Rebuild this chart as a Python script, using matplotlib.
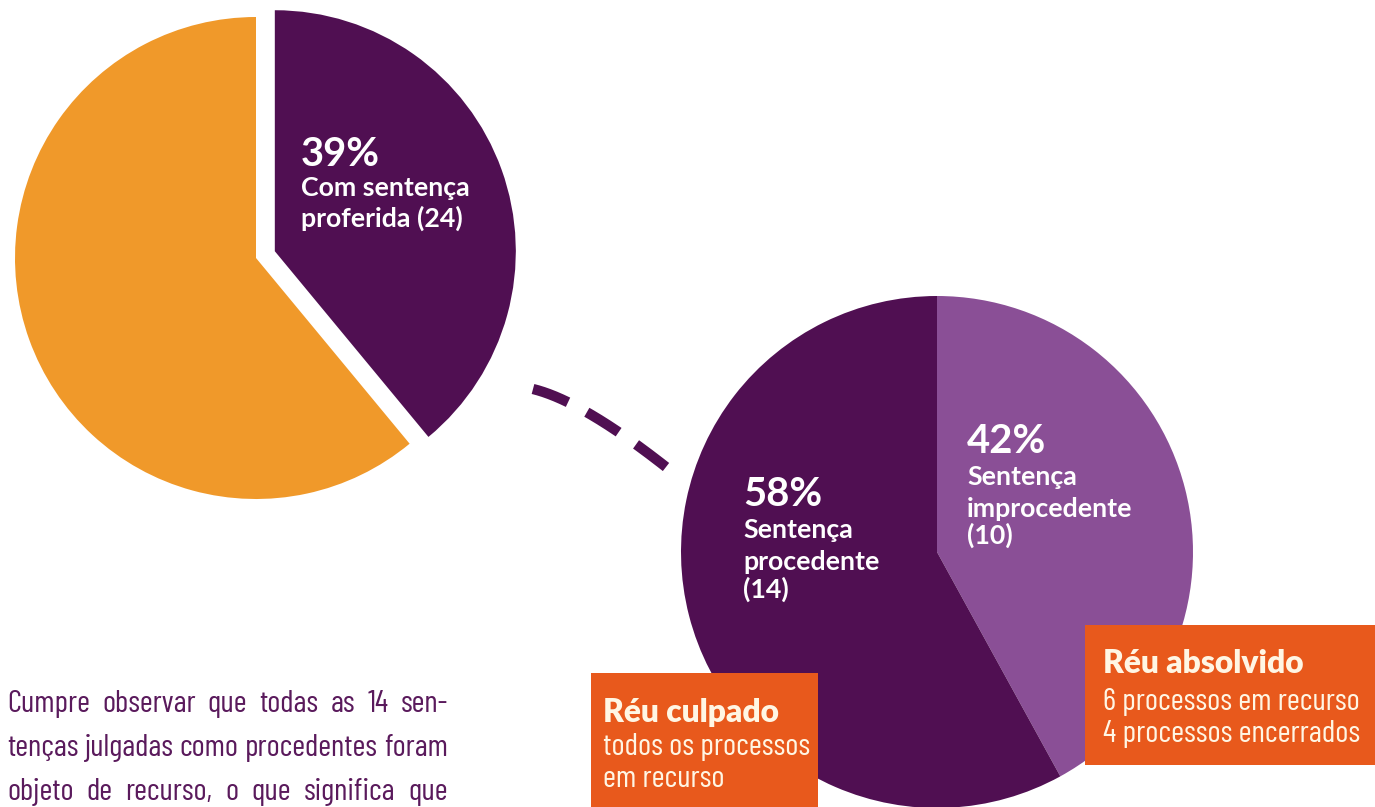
import matplotlib
matplotlib.use("Agg")
import matplotlib.pyplot as plt
from matplotlib import font_manager
from matplotlib.font_manager import FontProperties
from matplotlib.patches import Rectangle
import numpy as np

# ---- data ----
left_values = [39, 61]
left_pct_label = "39%"
left_label_lines = ["Com sentença", "proferida (24)"]

right_values = [42, 58]
right_pct_labels = ["42%", "58%"]
right_label_lines = [["Sentença", "improcedente", "(10)"],
                     ["Sentença", "procedente", "(14)"]]

box_titles = ["Réu culpado", "Réu absolvido"]
box_lines = [["todos os processos", "em recurso"],
             ["6 processos em recurso", "4 processos encerrados"]]

body_lines = ["Cumpre observar que todas as 14 sen-",
              "tenças julgadas como procedentes foram",
              "objeto de recurso, o que significa que"]

# ---- colours ----
ORANGE = "#F0992A"
DARK = "#500F52"
LIGHT = "#8A4F96"
BOX = "#E8591C"
CREAM = "#FFF6E4"
BODY = "#5A1A5C"

FL = font_manager.fontManager.ttflist


def pick(cands, min_weight=0):
    for c in cands:
        ws = [f.weight for f in FL if f.name == c]
        ws = [w if isinstance(w, (int, float)) else 400 for w in ws]
        if ws and max(ws) >= min_weight:
            return c
    return "DejaVu Sans"


NARROW = pick(["Barlow Condensed", "Barlow Semi Condensed", "Asap Condensed", "Archivo Narrow"])
LABEL = pick(["Comfortaa", "Quicksand", "Nunito", "M PLUS Rounded 1c", "Lexend", "Lato"], 700)
TITLE = pick(["Fredoka", "Baloo 2", "M PLUS Rounded 1c", "Nunito", "Quicksand", "Comfortaa", "Lato"], 700)

W, H = 1375, 807
fig = plt.figure(figsize=(W / 100, H / 100), dpi=100)
ax = fig.add_axes([0, 0, 1, 1])
ax.set_xlim(0, W)
ax.set_ylim(0, H)
ax.set_aspect("equal")
ax.axis("off")
renderer = fig.canvas.get_renderer()


def Y(y):
    return H - y


def width_px(s, family, weight, size):
    t = fig.text(0, 0, s, family=family, fontweight=weight, fontsize=size)
    w = t.get_window_extent(renderer=renderer).width
    t.remove()
    return w


def fit(s, family, weight, target):
    w = width_px(s, family, weight, 20)
    return 20 * target / w


# left pie (purple slice pulled out)
ax.pie(left_values, colors=[DARK, ORANGE], startangle=90, counterclock=False,
       explode=[20, 0], center=(256, Y(258)), radius=241,
       wedgeprops=dict(linewidth=0))

# right pie
ax.pie(right_values, colors=[LIGHT, DARK], startangle=90, counterclock=False,
       center=(937, Y(552)), radius=256, wedgeprops=dict(linewidth=0))
ax.set_xlim(0, W)
ax.set_ylim(0, H)

# dashed connector: three equal dashes
t = np.linspace(0, 1, 400)
p0 = np.array([533, Y(389)])
p1 = np.array([582, Y(401)])
p2 = np.array([666, Y(467)])
curve = ((1 - t)[:, None] ** 2) * p0 + (2 * (1 - t) * t)[:, None] * p1 + (t ** 2)[:, None] * p2
L = np.sum(np.hypot(np.diff(curve[:, 0]), np.diff(curve[:, 1])))
lw_pt = 7.4
lw_px = lw_pt * 100 / 72
dash_px = L * 37 / 153
gap_px = L * 21 / 153
ax.plot(curve[:, 0], curve[:, 1], color=DARK, lw=lw_pt,
        dashes=(dash_px / lw_px, gap_px / lw_px),
        dash_capstyle="butt", solid_capstyle="butt")

# pie labels
pct_size = fit("39%", LABEL, "bold", 79)
lab_size = fit("improcedente", LABEL, "bold", 166)


def label_block(x, pct, pct_base, lines, bases):
    ax.text(x, Y(pct_base), pct, color="white", fontsize=pct_size, fontweight="bold",
            family=LABEL, va="baseline", ha="left")
    for s, b in zip(lines, bases):
        ax.text(x, Y(b), s, color="white", fontsize=lab_size, fontweight="bold",
                family=LABEL, va="baseline", ha="left")

label_block(301, left_pct_label, 166, left_label_lines, [196, 227])
label_block(967, right_pct_labels[0], 453, right_label_lines[0], [485, 517, 544])
label_block(743, right_pct_labels[1], 506, right_label_lines[1], [538, 570, 598])

# boxes
ax.add_patch(Rectangle((591, Y(807)), 227, 134, facecolor=BOX, edgecolor="none", zorder=3))
ax.add_patch(Rectangle((1085, Y(765)), 290, 140, facecolor=BOX, edgecolor="none", zorder=3))

title_size = fit("Réu absolvido", TITLE, "heavy", 202)
box_size = fit("6 processos em recurso", NARROW, "normal", 257)

for (x, tb, lb, title, lines) in [(603, 722, [755, 787], box_titles[0], box_lines[0]),
                                   (1103, 673, [710, 742], box_titles[1], box_lines[1])]:
    ax.text(x, Y(tb), title, color=CREAM, fontsize=title_size, fontweight="heavy",
            family=TITLE, va="baseline", ha="left", zorder=4)
    for s, b in zip(lines, lb):
        ax.text(x, Y(b), s, color=CREAM, fontsize=box_size, family=NARROW,
                va="baseline", ha="left", zorder=4)

# body text, justified between x=7 and x=448
body_size = fit(body_lines[1], NARROW, "normal", 441)
x0, x1 = 7, 448
for line, base in zip(body_lines, [712, 756, 800]):
    words = line.split(" ")
    ws = [width_px(w_, NARROW, "normal", body_size) for w_ in words]
    gap = (x1 - x0 - sum(ws)) / (len(words) - 1)
    x = x0
    for w_, wd in zip(words, ws):
        ax.text(x, Y(base), w_, color=BODY, fontsize=body_size, family=NARROW,
                va="baseline", ha="left")
        x += wd + gap

fig.savefig("out.png", dpi=100)
